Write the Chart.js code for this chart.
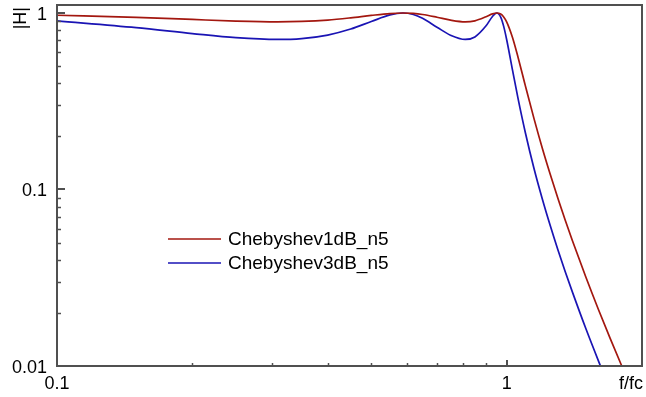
<!DOCTYPE html>
<html>
<head>
<meta charset="utf-8">
<script src="https://cdn.jsdelivr.net/npm/chart.js@4.4.1/dist/chart.umd.min.js"></script>
<style>
  html, body { margin: 0; padding: 0; background: #ffffff; }
  #wrap { width: 646px; height: 397px; }
</style>
</head>
<body>
<div id="wrap"><canvas id="FilterResponse" width="646" height="397"></canvas></div>
<script>
(function () {
  "use strict";

  // Data (f/fc vs |H|)
  const freq = [0.1, 0.15, 0.2, 0.25, 0.309, 0.35, 0.4, 0.45, 0.5, 0.55, 0.588, 0.62, 0.65, 0.7, 0.75, 0.809, 0.85, 0.9, 0.93, 0.951, 0.97, 0.985, 1.0, 1.03, 1.06, 1.1, 1.15, 1.2, 1.25, 1.3, 1.35, 1.4, 1.5, 1.6, 1.7, 1.8, 1.9, 2.0];
  const cheby1dB = [0.971, 0.945, 0.919, 0.900, 0.891, 0.896, 0.912, 0.939, 0.969, 0.993, 1.0, 0.995, 0.981, 0.946, 0.911, 0.891, 0.903, 0.952, 0.988, 1.0, 0.986, 0.950, 0.891, 0.729, 0.562, 0.389, 0.253, 0.172, 0.122, 0.0891, 0.0670, 0.0514, 0.0319, 0.0209, 0.0143, 0.0101, 0.0073, 0.0054];
  const cheby3dB = [0.902, 0.826, 0.765, 0.725, 0.708, 0.716, 0.750, 0.811, 0.895, 0.975, 1.0, 0.981, 0.933, 0.831, 0.748, 0.708, 0.732, 0.846, 0.956, 1.0, 0.948, 0.840, 0.708, 0.478, 0.328, 0.211, 0.132, 0.0887, 0.0625, 0.0456, 0.0342, 0.0263, 0.0163, 0.0107, 0.0073, 0.0052, 0.0037, 0.0028];
  const seriesNames = ['Chebyshev1dB_n5', 'Chebyshev3dB_n5'];

  // Axis ticks
  const xTickValues = [0.1, 1];
  const xTickLabels = ['0.1', '1'];
  const xMinorTicks = [0.2, 0.3, 0.4, 0.5, 0.6, 0.7, 0.8, 0.9];
  const yTickValues = [0.01, 0.1, 1];
  const yTickLabels = ['0.01', '0.1', '1'];
  const yMinorTicks = [0.02, 0.03, 0.04, 0.05, 0.06, 0.07, 0.08, 0.09, 0.2, 0.3, 0.4, 0.5, 0.6, 0.7, 0.8, 0.9];
  const xTitle = 'f/fc';
  const yTitle = '|H|';

  // Colors
  const red_line   = '#a3170f';
  const blue_line  = '#1a14b4';
  const frame_gray = '#505050';
  const font_face  = "'Liberation Sans', Arial, Helvetica, sans-serif";

  function points(ys) {
    return freq.map(function (f, i) { return { x: f, y: ys[i] }; });
  }

  // frame, inward ticks, titles and legend, drawn ROOT style
  const rootFrame = {
    id: 'rootFrame',
    afterDraw: function (chart) {
      const ctx = chart.ctx;
      const a = chart.chartArea;
      const xs = chart.scales.x;
      const ys = chart.scales.y;
      ctx.save();
      ctx.strokeStyle = frame_gray;

      // ticks
      ctx.lineWidth = 1.5;
      yMinorTicks.forEach(function (v) {
        const p = Math.round(ys.getPixelForValue(v)) + 0.5;
        ctx.beginPath(); ctx.moveTo(a.left, p); ctx.lineTo(a.left + 4, p); ctx.stroke();
      });
      xMinorTicks.forEach(function (v) {
        const p = Math.round(xs.getPixelForValue(v)) + 0.5;
        ctx.beginPath(); ctx.moveTo(p, a.bottom); ctx.lineTo(p, a.bottom - 3); ctx.stroke();
      });
      ctx.lineWidth = 2;
      yTickValues.forEach(function (v) {
        const p = Math.round(ys.getPixelForValue(v));
        ctx.beginPath(); ctx.moveTo(a.left, p); ctx.lineTo(a.left + 8, p); ctx.stroke();
      });
      xTickValues.forEach(function (v) {
        const p = Math.round(xs.getPixelForValue(v));
        ctx.beginPath(); ctx.moveTo(p, a.bottom); ctx.lineTo(p, a.bottom - 6); ctx.stroke();
      });

      // frame
      ctx.lineWidth = 2;
      ctx.strokeRect(a.left, a.top, a.right - a.left, a.bottom - a.top);

      // axis titles
      ctx.fillStyle = '#000000';
      ctx.font = '18px ' + font_face;
      ctx.textAlign = 'right';
      ctx.textBaseline = 'middle';
      ctx.fillText(xTitle, a.right + 1, 384);
      ctx.save();
      ctx.translate(21, a.top + 2);
      ctx.rotate(-Math.PI / 2);
      ctx.textAlign = 'right';
      ctx.fillText(yTitle, 0, 0);
      ctx.restore();

      // legend
      ctx.font = '19px ' + font_face;
      ctx.textAlign = 'left';
      chart.data.datasets.forEach(function (ds, i) {
        const y = 239 + i * 24;
        ctx.strokeStyle = ds.borderColor;
        ctx.lineWidth = 1.5;
        ctx.beginPath(); ctx.moveTo(168, y); ctx.lineTo(221, y); ctx.stroke();
        ctx.fillText(ds.label, 228, y + 1);
      });
      ctx.restore();
    }
  };

  const el = document.getElementById('FilterResponse');
  if (el != null) {
    new Chart(el.getContext('2d'), {
      type: 'line',
      data: {
        datasets: [{
          label: seriesNames[0],
          data: points(cheby1dB),
          borderColor: red_line,
          backgroundColor: red_line,
          borderWidth: 1.7,
          pointRadius: 0,
          fill: false,
          cubicInterpolationMode: 'monotone'
        },
        {
          label: seriesNames[1],
          data: points(cheby3dB),
          borderColor: blue_line,
          backgroundColor: blue_line,
          borderWidth: 1.7,
          pointRadius: 0,
          fill: false,
          cubicInterpolationMode: 'monotone'
        }]
      },
      options: {
        responsive: false,
        animation: false,
        layout: { padding: { top: 5, right: 4, left: 0, bottom: 0 } },
        plugins: {
          legend: { display: false },
          tooltip: { enabled: false }
        },
        scales: {
          x: {
            type: 'logarithmic',
            min: 0.1,
            max: 2,
            grid: { display: false, drawTicks: false },
            border: { display: false },
            afterFit: function (s) {
              s.height = 31;
              s.paddingLeft = 0;
              s.paddingRight = 0;
            },
            afterBuildTicks: function (s) {
              s.ticks = xTickValues.map(function (v) { return { value: v }; });
            },
            ticks: {
              autoSkip: false,
              maxRotation: 0,
              padding: 7,
              color: '#000000',
              font: { size: 18, family: font_face },
              callback: function (value, index) { return xTickLabels[index]; }
            }
          },
          y: {
            type: 'logarithmic',
            min: 0.01,
            max: 1.11,
            grid: { display: false, drawTicks: false },
            border: { display: false },
            afterFit: function (s) {
              s.width = 57;
              s.paddingTop = 0;
              s.paddingBottom = 0;
            },
            afterBuildTicks: function (s) {
              s.ticks = yTickValues.map(function (v) { return { value: v }; });
            },
            ticks: {
              autoSkip: false,
              padding: 10,
              labelOffset: 2,
              color: '#000000',
              font: { size: 18, family: font_face },
              callback: function (value, index) { return yTickLabels[index]; }
            }
          }
        }
      },
      plugins: [rootFrame]
    });
  }
})();
</script>
</body>
</html>
